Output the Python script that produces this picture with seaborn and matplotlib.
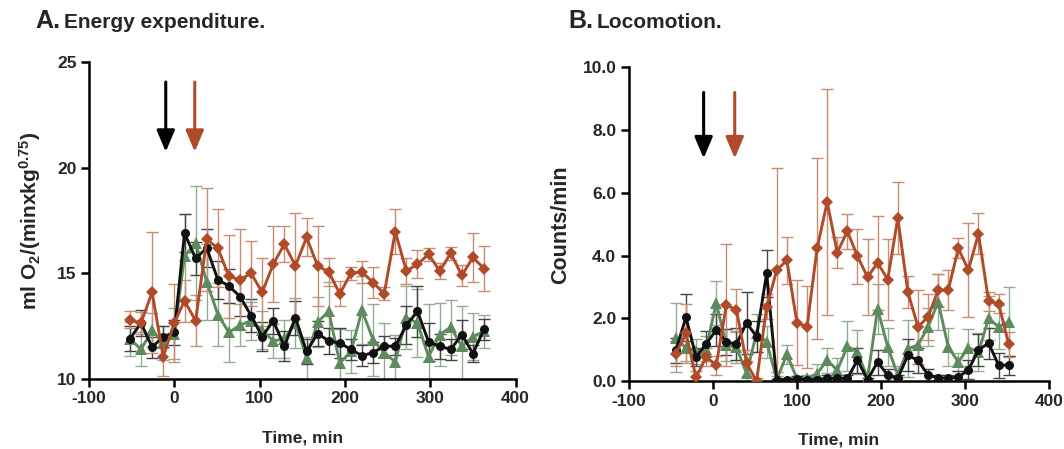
import numpy as np
import pandas as pd
import matplotlib
matplotlib.use("Agg")
import matplotlib.pyplot as plt
import seaborn as sns

sns.set_theme(style="ticks")
plt.rcParams['font.family'] = ['Liberation Sans', 'DejaVu Sans']
plt.rcParams['font.weight'] = 'bold'
plt.rcParams['axes.labelweight'] = 'bold'
plt.rcParams['axes.unicode_minus'] = False
plt.rcParams['mathtext.fontset'] = 'custom'
plt.rcParams['mathtext.rm'] = 'Liberation Sans:bold'
plt.rcParams['mathtext.it'] = 'Liberation Sans:bold'
plt.rcParams['mathtext.bf'] = 'Liberation Sans:bold'
plt.rcParams['mathtext.default'] = 'rm'

# ---- data: panel A, energy expenditure (ml O2 / (min x kg^0.75)) ----
time_a = [-52, -39, -26, -13, 0, 12, 25, 38, 51, 64, 77, 90, 103, 116, 129, 142, 155,
          168, 181, 194, 207, 220, 233, 246, 259, 272, 285, 298, 311, 324, 337, 350, 363]

ee_black = [11.9, 12.65, 11.5, 12.0, 12.2, 16.9, 15.7, 16.2, 14.7, 14.4, 13.9, 13.0, 12.0,
            12.75, 11.55, 12.9, 11.3, 12.15, 11.8, 11.7, 11.4, 11.1, 11.25, 11.55, 11.55,
            12.55, 13.2, 11.75, 11.55, 11.4, 12.1, 11.2, 12.35]
ee_black_sem = [0.6, 0.6, 0.5, 0.5, 0.6, 0.9, 0.8, 0.9, 0.9, 0.8, 0.9, 0.8, 0.7, 0.6, 0.7,
                0.8, 0.6, 0.6, 0.6, 0.7, 0.5, 0.5, 0.5, 0.5, 0.4, 0.9, 1.2, 0.9, 0.6, 0.5,
                0.7, 0.4, 0.5]

ee_green = [11.9, 11.4, 12.3, 11.7, 12.15, 15.8, 16.45, 14.6, 13.05, 12.2, 12.55, 12.75,
            12.3, 11.8, 11.9, 12.65, 11.0, 12.7, 13.2, 10.75, 11.3, 13.25, 11.85, 11.25,
            10.8, 12.9, 12.65, 11.05, 12.1, 12.45, 11.55, 12.0, 12.25]
ee_green_sem = [0.8, 0.8, 0.8, 0.8, 1.2, 2.0, 2.7, 1.8, 1.5, 1.4, 1.0, 0.9, 0.9, 0.8, 0.9,
                1.2, 1.0, 1.2, 1.4, 1.6, 1.0, 1.6, 1.7, 1.4, 1.3, 1.5, 1.6, 2.5, 1.5, 1.3,
                1.9, 1.1, 0.8]

ee_orange = [12.8, 12.65, 14.1, 11.05, 12.65, 13.7, 12.75, 16.6, 16.2, 14.85, 14.7, 15.0,
             14.1, 15.43, 16.38, 15.35, 16.7, 15.35, 15.06, 14.03, 15.0, 15.06, 14.56,
             14.03, 16.97, 15.11, 15.43, 15.9, 15.11, 15.95, 14.9, 15.75, 15.22]
ee_orange_sem = [0.4, 0.5, 2.85, 0.9, 1.85, 1.0, 1.2, 2.45, 1.85, 1.95, 2.4, 1.55, 1.6, 1.8,
                 0.85, 2.5, 0.9, 1.9, 0.65, 0.6, 0.3, 0.5, 0.75, 0.3, 1.05, 0.6, 0.65, 0.3,
                 0.4, 0.3, 0.5, 1.15, 1.05]

# ---- data: panel B, locomotion (counts / min) ----
time_b = [-44, -32, -20, -8, 4, 16, 28, 40, 52, 64, 76, 88, 100, 112, 124, 136, 148, 160,
          172, 184, 196, 208, 220, 232, 244, 256, 268, 280, 292, 304, 316, 328, 340, 352]

loco_black = [0.99, 2.04, 0.77, 1.19, 1.63, 1.25, 1.18, 1.86, 1.42, 3.44, 0.03, 0.05, 0.08,
              0.05, 0.05, 0.09, 0.09, 0.09, 0.67, 0.05, 0.61, 0.19, 0.09, 0.83, 0.66, 0.2,
              0.1, 0.1, 0.13, 0.36, 1.0, 1.21, 0.51, 0.51]
loco_black_sem = [0.4, 0.75, 0.3, 0.4, 0.5, 0.4, 0.5, 0.99, 0.5, 0.75, 0.05, 0.05, 0.1,
                  0.05, 0.05, 0.1, 0.1, 0.1, 0.4, 0.05, 0.4, 0.2, 0.1, 0.5, 0.4, 0.2, 0.1,
                  0.1, 0.2, 0.3, 0.5, 0.5, 0.4, 0.3]

loco_green = [1.38, 1.05, 0.95, 1.04, 2.5, 1.15, 1.08, 0.25, 1.53, 1.25, 0.05, 0.86, 0.08,
              0.09, 0.24, 0.67, 0.35, 1.11, 0.93, 0.09, 2.31, 1.09, 0.19, 1.04, 1.15, 1.73,
              2.53, 1.09, 0.61, 1.07, 0.93, 2.0, 1.73, 1.89]
loco_green_sem = [1.1, 0.4, 0.4, 0.4, 0.7, 0.5, 0.5, 0.4, 0.6, 0.5, 0.1, 0.3, 0.1, 0.1, 0.3,
                  0.4, 0.4, 0.8, 0.7, 0.1, 0.8, 0.6, 0.3, 0.9, 0.6, 0.6, 0.9, 0.6, 0.3, 0.6,
                  0.6, 0.7, 0.7, 1.1]

loco_orange = [0.88, 1.52, 0.12, 0.77, 0.51, 2.42, 2.28, 0.58, 0.0, 2.37, 3.54, 3.85, 1.87,
               1.73, 4.23, 5.71, 4.1, 4.78, 3.98, 3.32, 3.77, 3.24, 5.2, 2.84, 1.73, 2.05,
               2.9, 2.9, 4.23, 3.54, 4.7, 2.55, 2.47, 1.17]
loco_orange_sem = [0.4, 0.95, 0.2, 0.3, 0.3, 1.95, 0.67, 0.4, 0.1, 0.4, 3.24, 0.74, 1.35,
                   1.3, 2.87, 3.6, 0.5, 0.56, 0.88, 1.2, 1.5, 1.28, 1.15, 0.5, 1.17, 0.74,
                   0.53, 0.64, 0.32, 1.49, 0.66, 0.3, 0.3, 0.4]

GROUPS = ['black', 'green', 'orange']
LINE_COLORS = {'black': '#111111', 'green': '#5E8A5E', 'orange': '#B04A28'}
ERR_COLORS = {'black': '#444444', 'green': '#8FAE8F', 'orange': '#C98B72'}
MARKERS = {'black': 'o', 'green': '^', 'orange': 'D'}
MSIZES = {'black': 6.5, 'green': 8, 'orange': 6}
ZORDER = {'green': 3, 'black': 4, 'orange': 5}


def long_frame(times, series):
    rows = []
    for name, (vals, sems) in series.items():
        for t, v, s in zip(times, vals, sems):
            rows.append((name, t, v, s))
    return pd.DataFrame(rows, columns=['group', 'time', 'value', 'sem'])


df_a = long_frame(time_a, {'black': (ee_black, ee_black_sem),
                           'green': (ee_green, ee_green_sem),
                           'orange': (ee_orange, ee_orange_sem)})
df_b = long_frame(time_b, {'black': (loco_black, loco_black_sem),
                           'green': (loco_green, loco_green_sem),
                           'orange': (loco_orange, loco_orange_sem)})


def draw_panel(ax, df):
    for g in GROUPS:
        d = df[df['group'] == g]
        ax.errorbar(d['time'], d['value'], yerr=d['sem'], fmt='none',
                    ecolor=ERR_COLORS[g], elinewidth=1.0, capsize=4, capthick=1.0,
                    zorder=ZORDER[g] - 2)
    for g in GROUPS:
        d = df[df['group'] == g]
        sns.lineplot(data=d, x='time', y='value', color=LINE_COLORS[g],
                     marker=MARKERS[g], markersize=MSIZES[g], markeredgewidth=0,
                     linewidth=2.1, estimator=None, errorbar=None, legend=False,
                     ax=ax, zorder=ZORDER[g])
    ax.set_xlim(-100, 400)
    ax.set_xticks([-100, 0, 100, 200, 300, 400])
    ax.set_xlabel('Time, min', fontsize=12.5, fontweight='bold', labelpad=17)
    sns.despine(ax=ax)
    for side in ['left', 'bottom']:
        ax.spines[side].set_linewidth(1.8)
        ax.spines[side].set_color('black')
    ax.tick_params(axis='both', direction='out', length=6, width=1.8, color='black',
                   labelsize=12.5, pad=3)
    for lab in ax.get_xticklabels() + ax.get_yticklabels():
        lab.set_fontweight('bold')


def drop_arrow(ax, x, y_top, y_tip, color):
    ax.annotate('', xy=(x, y_tip), xytext=(x, y_top),
                arrowprops=dict(arrowstyle='-|>,head_length=1.3,head_width=0.55',
                                mutation_scale=10, color=color, lw=2.2,
                                shrinkA=0, shrinkB=0))


fig = plt.figure(figsize=(10.64, 4.49), dpi=100)
ax_a = fig.add_axes([0.0836, 0.156, 0.401, 0.706])
ax_b = fig.add_axes([0.591, 0.151, 0.395, 0.699])

draw_panel(ax_a, df_a)
ax_a.set_ylim(10, 25)
ax_a.set_yticks([10, 15, 20, 25])
ax_a.set_ylabel('ml O$_2$/(minxkg$^{0.75}$)', fontsize=15, fontweight='bold', labelpad=10)
drop_arrow(ax_a, -10, 24.05, 20.75, '#000000')
drop_arrow(ax_a, 24, 24.05, 20.75, LINE_COLORS['orange'])

draw_panel(ax_b, df_b)
ax_b.set_ylim(0, 10)
ax_b.set_yticks([0, 2, 4, 6, 8, 10])
ax_b.set_yticklabels([f'{v:.1f}' for v in [0, 2, 4, 6, 8, 10]])
for lab in ax_b.get_yticklabels():
    lab.set_fontweight('bold')
ax_b.set_ylabel('Counts/min', fontsize=15.5, fontweight='bold', labelpad=8)
drop_arrow(ax_b, -11, 9.2, 7.1, '#000000')
drop_arrow(ax_b, 26, 9.2, 7.1, LINE_COLORS['orange'])

fig.text(0.033, 0.938, 'A.', fontsize=18, fontweight='bold', va='baseline')
fig.text(0.060, 0.938, 'Energy expenditure.', fontsize=15, fontweight='bold', va='baseline')
fig.text(0.534, 0.938, 'B.', fontsize=18, fontweight='bold', va='baseline')
fig.text(0.561, 0.938, 'Locomotion.', fontsize=15, fontweight='bold', va='baseline')

fig.savefig('out.png', dpi=100)
